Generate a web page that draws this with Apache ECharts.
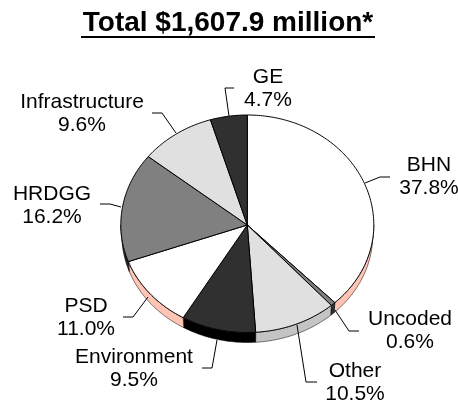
<!DOCTYPE html>
<html><head><meta charset="utf-8">
<style>html,body{margin:0;padding:0;background:#fff}#c{width:458px;height:404px}</style>
<script src="https://cdn.jsdelivr.net/npm/echarts@6/dist/echarts.min.js"></script>
</head><body><div id="c"></div>
<script>
var categories = ['BHN','Uncoded','Other','Environment','PSD','HRDGG','Infrastructure','GE'];
var values = [37.8,0.6,10.5,9.5,11.0,16.2,9.6,4.7];
var topColors = ['#ffffff','#808080','#e0e0e0','#303030','#ffffff','#808080','#e0e0e0','#303030'];
var sideColors = ['#ffc4b4','#303030','#c4c4c4','#000000','#ffc4b4','#202020','#c4c4c4','#000000'];

var CX=247.3, CY=225, RX=126.5, RY_UP=110, RY_DOWN=107.5, DEPTH=10, SHRINK=1;
var total = values.reduce(function(a,b){return a+b;},0);
function startFrac(i){var s=0;for(var k=0;k<i;k++)s+=values[k];return s/total;}
function pt(a,dy,shrink){var c=Math.cos(a);return [CX+(RX-(shrink||0))*Math.sin(a), CY-(c>0?RY_UP:RY_DOWN)*c+(dy||0)];}
function arcPts(a0,a1,dy,shrink){var n=Math.max(2,Math.ceil((a1-a0)/0.015)),p=[];for(var i=0;i<=n;i++)p.push(pt(a0+(a1-a0)*i/n,dy,shrink));return p;}
function angles(i){var T=2*Math.PI;return [startFrac(i)*T,(startFrac(i)+values[i]/total)*T];}

function renderTop(params,api){
  var i=api.value(0),a=angles(i);
  var pts=[[CX,CY]].concat(arcPts(a[0],a[1]));
  return {type:'polygon',shape:{points:pts},style:{fill:topColors[i],stroke:'#000',lineWidth:1,lineJoin:'round'}};
}
function renderSide(params,api){
  var i=api.value(0),a=angles(i),lo=Math.max(a[0],Math.PI/2),hi=Math.min(a[1],Math.PI*1.5);
  if(hi<=lo)return null;
  var pts=arcPts(lo,hi).concat(arcPts(lo,hi,DEPTH,SHRINK).reverse());
  return {type:'polygon',shape:{points:pts},style:{fill:sideColors[i],stroke:'#000',lineWidth:0.5}};
}
var seriesData=categories.map(function(c,i){return {name:c,value:[i,values[i]]};});

var labels=[
 ['GE','4.7%',268,77],['Infrastructure','9.6%',82,102],['BHN','37.8%',429,165],['HRDGG','16.2%',52,194],
 ['Uncoded','0.6%',410,319],['Other','10.5%',355,371],['Environment','9.5%',134,357],['PSD','11.0%',86,306]
];
var leaders=[
 [[234,88],[225,88],[229,116]],[[152,113],[162,113],[176,133]],[[390,177],[380,177],[365,183]],[[100,204],[110,204],[121,207]],
 [[359,331],[349,331],[335,310]],[[317,382],[306,382],[297,325]],[[202,368],[212,368],[217,340]],[[123,317],[133,317],[148,297]]
];
var g=[];
g.push({type:'text',z:10,style:{text:'Total $1,607.9 million*',x:228,y:23,align:'center',verticalAlign:'middle',font:'bold 28px "Liberation Sans"',fill:'#000'}});
g.push({type:'rect',z:10,shape:{x:81,y:36,width:294,height:2},style:{fill:'#000'}});
labels.forEach(function(l){
  g.push({type:'text',z:10,style:{text:l[0]+'\n'+l[1],x:l[2],y:l[3]-12,align:'center',verticalAlign:'top',lineHeight:23.5,font:'21px "Liberation Sans"',fill:'#000'}});
});
leaders.forEach(function(p){g.push({type:'polyline',z:10,shape:{points:p},style:{fill:null,stroke:'#000',lineWidth:1}});});

var chart=echarts.init(document.getElementById('c'),null,{renderer:'canvas'});
chart.setOption({
 animation:false,backgroundColor:'#fff',
 graphic:g,
 series:[
  {type:'custom',coordinateSystem:'none',renderItem:renderSide,data:seriesData,z:1,silent:true},
  {type:'custom',coordinateSystem:'none',renderItem:renderTop,data:seriesData,z:2,silent:true}
 ]
});
</script></body></html>
